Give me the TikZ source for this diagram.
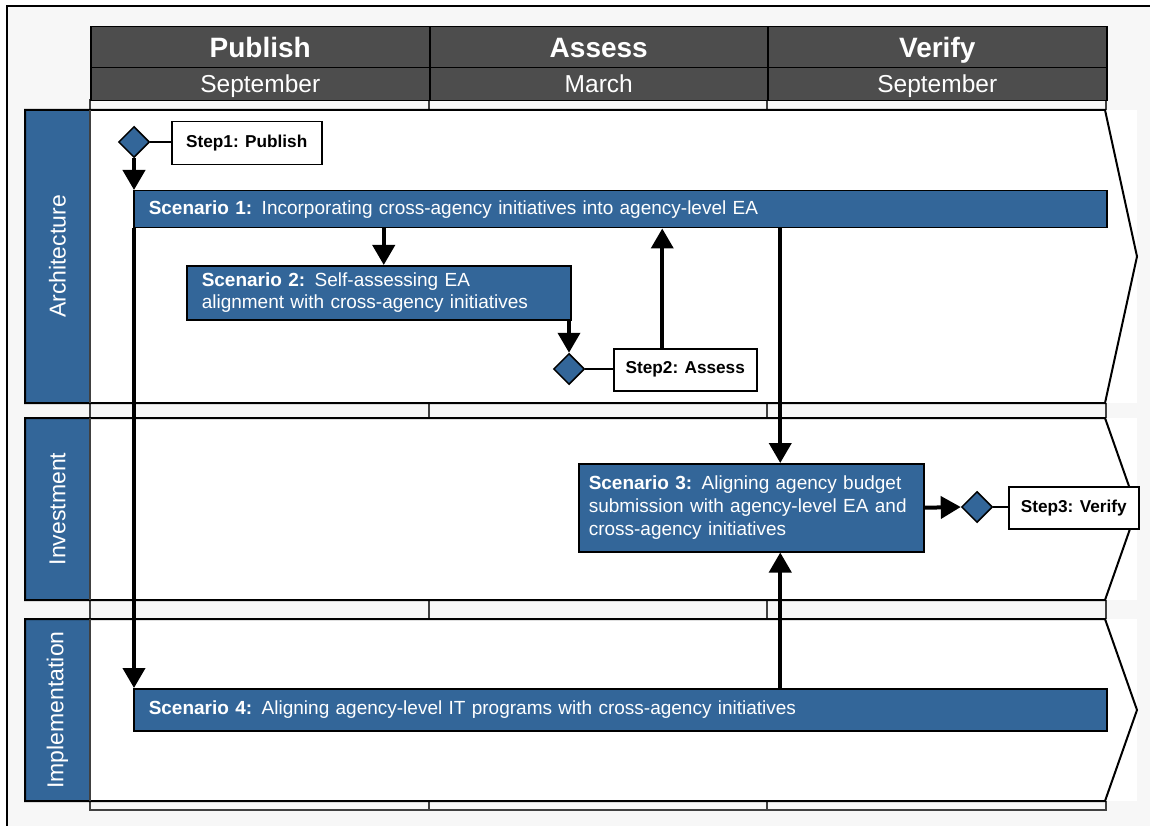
\documentclass[tikz,border=0pt]{standalone}
\usepackage{fontspec}
\setmainfont{Liberation Sans}
\usetikzlibrary{shapes.geometric,arrows.meta,calc}
\definecolor{eablue}{HTML}{336699}
\definecolor{hdr}{HTML}{4D4D4D}
\definecolor{bg}{HTML}{F7F7F7}
\begin{document}
\begin{tikzpicture}[x=1pt,y=-1pt,
  hdrcell/.style={fill=hdr,draw=black,line width=1.5pt,text=white,inner sep=0,anchor=north west},
  toprow/.style={hdrcell,minimum height=41pt,text height=20pt,text depth=0pt,font=\bfseries\fontsize{28}{32}\selectfont},
  monthrow/.style={hdrcell,minimum height=33pt,text height=17.5pt,text depth=0pt,font=\fontsize{24.5}{28}\selectfont},
  lanelbl/.style={text=white,rotate=90,font=\fontsize{23}{26}\selectfont},
  scen/.style={fill=eablue,draw=black,line width=1.5pt,text=white,align=left,anchor=north west,font=\fontsize{19}{23}\selectfont},
  stepbox/.style={fill=white,draw=black,line width=1.5pt,anchor=north west,font=\bfseries\fontsize{17.2}{20}\selectfont,inner sep=0},
  dia/.style={diamond,fill=eablue,draw=black,line width=1.5pt,minimum size=31pt,inner sep=0},
  arr/.style={line width=4pt,-{Triangle[length=20pt,width=22pt]}},
  conn/.style={line width=2pt}
]
\useasboundingbox (0,0) rectangle (1150,826);
% background frame
\fill[bg] (7,6) rectangle (1160,840);
\draw[line width=1.5pt] (7,840) -- (7,6) -- (1160,6);
% column grid
\foreach \a/\b in {90/429,429/767,767/1106}{
  \draw[line width=1.2pt,draw=black!75] (\a,100) rectangle (\b,810);
}
% headers
\node[toprow,minimum width=339pt] (h1) at (90,26) {Publish};
\node[toprow,minimum width=338pt] (h2) at (429,26) {Assess};
\node[toprow,minimum width=339pt] (h3) at (767,26) {Verify};
\node[monthrow,minimum width=339pt] (m1) at (90,67) {September};
\node[monthrow,minimum width=338pt] (m2) at (429,67) {March};
\node[monthrow,minimum width=339pt] (m3) at (767,67) {September};
% lanes
\foreach \t/\bt in {110/403,418/600,619/801}{
  \fill[white] (90,\t) rectangle (1137,\bt);
  \fill[eablue] (25,\t) rectangle (90,\bt);
  \draw[line width=2pt,line join=miter] (25,\t) -- (1105,\t) -- (1137,{(\t+\bt)/2}) -- (1105,\bt) -- (25,\bt) -- cycle;
  \draw[line width=1.2pt,draw=black!75] (90,\t) -- (90,\bt);
}
\node[lanelbl] (l1) at (57.5,256.5) {Architecture};
\node[lanelbl] (l2) at (57.5,509) {Investment};
\node[lanelbl] (l3) at (57.5,710) {Implementation};
% scenarios
\node[scen,minimum width=973pt,minimum height=37pt,text width=943pt,inner xsep=15pt,inner ysep=0pt] (s1) at (133,190) {\textbf{Scenario 1:} Incorporating cross-agency initiatives into agency-level EA};
\node[scen,minimum width=384pt,minimum height=54pt,text width=354pt,inner xsep=15pt,inner ysep=0pt,font=\fontsize{19}{22}\selectfont] (s2) at (186,265) {\textbf{Scenario 2:} Self-assessing EA\\alignment with cross-agency initiatives};
\node[scen,minimum width=345pt,minimum height=88pt,text width=325pt,inner xsep=10pt,inner ysep=0pt] (s3) at (578,463) {\textbf{Scenario 3:} Aligning agency budget\\submission with agency-level EA and\\cross-agency initiatives};
\node[scen,minimum width=973pt,minimum height=42pt,text width=943pt,inner xsep=15pt,inner ysep=0pt] (s4) at (133,688) {\textbf{Scenario 4:} Aligning agency-level IT programs with cross-agency initiatives};
% steps
\node[dia] (d1) at (134,142) {};
\node[stepbox,minimum width=150pt,minimum height=43pt] (st1) at (171,121) {Step1: Publish};
\node[dia] (d2) at (569,369) {};
\node[stepbox,minimum width=143pt,minimum height=42pt] (st2) at (613,348) {Step2: Assess};
\node[dia] (d3) at (977,507) {};
\node[stepbox,minimum width=130pt,minimum height=42pt] (st3) at (1008,486) {Step3: Verify};
% connectors
\draw[conn] (d1.east) -- (d1.east -| st1.west);
\draw[conn] (d2.east) -- (d2.east -| st2.west);
\draw[conn] (d3.east) -- (d3.east -| st3.west);
\coordinate (a2) at ($(st2.north)+(-23,0)$);
\coordinate (a3) at ($(s3.north)+(29,0)$);
\coordinate (a4) at ($(s3.south)+(29,0)$);
\coordinate (a5) at ($(s2.north)+(5,0)$);
\draw[arr] (d1.south) -- (d1.south |- s1.north);
\draw[arr] (a5 |- s1.south) -- (a5);
\draw[arr] (d2.north |- s2.south) -- (d2.north);
\draw[arr] (a2) -- (a2 |- s1.south);
\draw[arr] (a3 |- s1.south) -- (a3);
\draw[arr] (a4 |- s4.north) -- (a4);
\draw[arr] (s3.east) -- (d3.west);
\draw[arr] (d1 |- s1.south) -- (d1 |- s4.north);
\end{tikzpicture}
\end{document}
